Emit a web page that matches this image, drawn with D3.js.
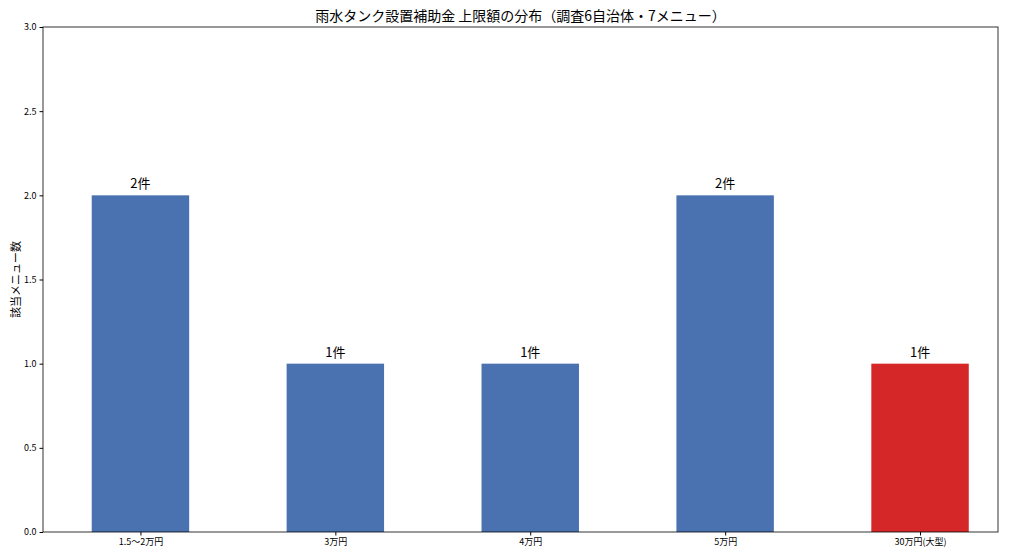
<!DOCTYPE html>
<html><head><meta charset="utf-8">
<script src="https://cdn.jsdelivr.net/npm/d3@7"></script>
<style>body{margin:0;background:#fff}text{font-family:"Noto Sans CJK JP",sans-serif}</style>
</head><body><svg id="c" width="1024" height="559"></svg>
<script>
const categories = ["1.5〜2万円", "3万円", "4万円", "5万円", "30万円(大型)"];
const counts = [2, 1, 1, 2, 1];
const barColors = ["#4a72b0", "#4a72b0", "#4a72b0", "#4a72b0", "#d62728"];
const yTicks = [0, 0.5, 1, 1.5, 2, 2.5, 3];

const m = {l: 43, r: 998, t: 27, b: 532};
const svg = d3.select("#c");
const x = d3.scaleLinear().domain([-0.5, 4.4]).range([m.l, m.r]);
const y = d3.scaleLinear().domain([0, 3]).range([m.b, m.t]);
const bw = x(0.5) - x(0);

svg.append("g").selectAll("rect").data(counts).join("rect")
  .attr("x", (d, i) => x(i) - bw / 2).attr("width", bw)
  .attr("y", d => y(d)).attr("height", d => y(0) - y(d))
  .attr("fill", (d, i) => barColors[i]);

svg.append("g").selectAll("text").data(counts).join("text")
  .attr("x", (d, i) => x(i)).attr("y", d => y(d) - 7)
  .attr("text-anchor", "middle").attr("font-size", 13).text(d => d + "件");

svg.append("g").attr("transform", `translate(${m.l},0)`)
  .call(d3.axisLeft(y).tickValues(yTicks).tickFormat(d3.format(".1f")).tickSize(3.5))
  .call(g => g.selectAll("text").attr("font-size", 9));
svg.append("g").attr("transform", `translate(0,${m.b})`)
  .call(d3.axisBottom(x).tickValues(d3.range(5)).tickFormat(i => categories[i]).tickSize(3.5))
  .call(g => g.selectAll("text").attr("font-size", 9));
svg.selectAll(".domain").remove();
svg.append("rect").attr("x", m.l).attr("y", m.t).attr("width", m.r - m.l).attr("height", m.b - m.t)
  .attr("fill", "none").attr("stroke", "#000").attr("stroke-width", 0.8);

svg.append("text").attr("x", (m.l + m.r) / 2).attr("y", 21).attr("text-anchor", "middle")
  .attr("font-size", 14).text("雨水タンク設置補助金 上限額の分布（調査6自治体・7メニュー）");
svg.append("text").attr("transform", `translate(20,${(m.t + m.b) / 2}) rotate(-90)`)
  .attr("text-anchor", "middle").attr("font-size", 11).text("該当メニュー数");
</script></body></html>
